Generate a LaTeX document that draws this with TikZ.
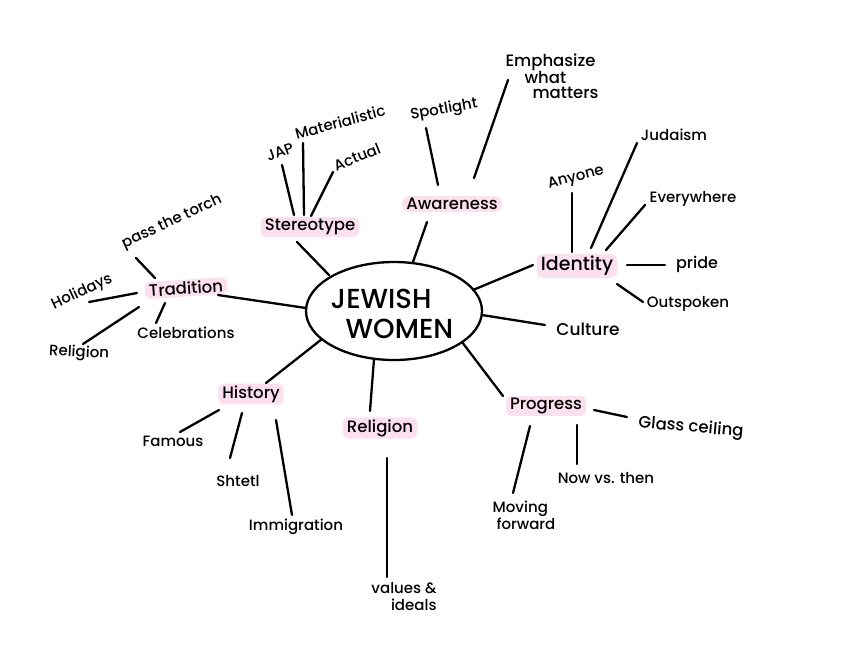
\documentclass[tikz,border=0pt]{standalone}
\usepackage{fontspec}
\setmainfont{Poppins}[UprightFont={* Medium}]
\usetikzlibrary{calc,shapes.geometric}
\definecolor{hl}{RGB}{252,224,238}
\tikzset{
  lbl/.style={font=\fontsize{15}{17}\selectfont, inner sep=1pt, text=black},
  hlbox/.style={font=\fontsize{16.5}{18}\selectfont, fill=hl, rounded corners=6pt, inner xsep=4pt, inner ysep=2pt, text=black},
  conn/.style={line width=2.3pt, line cap=round, draw=black},
}
\begin{document}
\begin{tikzpicture}[x=1pt,y=-1pt]
\useasboundingbox (0,0) rectangle (845,656);
% center
\node[ellipse, draw, line width=2.3pt, minimum width=176pt, minimum height=98pt, inner sep=0pt] (jw) at (394,311) {};
\node[font=\fontsize{27.5}{32}\selectfont, align=left, inner sep=0pt] (jwt) at (392,314) {JEWISH\\[-2pt]\hspace{15pt}WOMEN};
% tradition
\node[hlbox, rotate=4] (trad) at (186,288) {Tradition};
\node[lbl, rotate=25] (torch) at (172,222) {pass the torch};
\node[lbl, rotate=25] (holid) at (82,292) {Holidays};
\node[lbl, rotate=-3] (relL) at (79,353) {Religion};
\node[lbl] (celeb) at (186,333) {Celebrations};
% stereotype
\node[hlbox] (ster) at (310,227) {Stereotype};
\node[lbl, rotate=20] (jap) at (280,152) {JAP};
\node[lbl, rotate=15] (mat) at (340,122) {Materialistic};
\node[lbl, rotate=22] (act) at (357,157) {Actual};
% awareness
\node[hlbox] (aware) at (452,204) {Awareness};
\node[lbl, rotate=10] (spot) at (444,110) {Spotlight};
\node[lbl, align=left, font=\fontsize{16.5}{15}\selectfont] (emph) at (552,76) {Emphasize\\\hspace{19pt}what\\\hspace{27pt}matters};
% identity
\node[hlbox, font=\fontsize{19}{20}\selectfont] (ident) at (577,266) {Identity};
\node[lbl, rotate=15] (anyone) at (576,178) {Anyone};
\node[lbl] (juda) at (674,135) {Judaism};
\node[lbl] (every) at (693,199) {Everywhere};
\node[lbl, font=\fontsize{16}{17}\selectfont] (pride) at (697,264) {pride};
\node[lbl, font=\fontsize{17}{18}\selectfont] (cult) at (588,329) {Culture};
\node[lbl] (outsp) at (688,304) {Outspoken};
% progress
\node[hlbox] (prog) at (546,406) {Progress};
\node[lbl, rotate=-5, font=\fontsize{16.5}{17}\selectfont] (glass) at (691,428) {Glass ceiling};
\node[lbl] (now) at (606,478) {Now vs. then};
\node[lbl, align=left] (moving) at (524,515) {Moving\\\hspace{4pt}forward};
% religion
\node[hlbox] (relM) at (380,428) {Religion};
\node[lbl, align=right] (values) at (404,597) {values \&\\ideals};
% history
\node[hlbox] (hist) at (251,394) {History};
\node[lbl] (famous) at (173,441) {Famous};
\node[lbl] (shtetl) at (238,481) {Shtetl};
\node[lbl] (immig) at (296,527) {Immigration};
% connectors
\draw[conn] ($(jw)+(-88,-3)$) -- ($(trad)+(32,7)$);
\draw[conn] ($(trad)+(-31,-10)$) -- ($(torch)+(-36,36)$);
\draw[conn] ($(trad)+(-49,5)$) -- ($(holid)+(7,10)$);
\draw[conn] ($(trad)+(-47,19)$) -- ($(relL)+(4,-9)$);
\draw[conn] ($(trad)+(-21,15)$) -- ($(celeb)+(-30,-10)$);
\draw[conn] ($(jw)+(-65,-36)$) -- ($(ster)+(-13,15)$);
\draw[conn] ($(ster)+(-16,-12)$) -- ($(jap)+(2,13)$);
\draw[conn] ($(ster)+(-6,-12)$) -- ($(mat)+(-37,21)$);
\draw[conn] ($(ster)+(1,-11)$) -- ($(act)+(-24,15)$);
\draw[conn] ($(jw)+(19,-49)$) -- ($(aware)+(-25,18)$);
\draw[conn] ($(aware)+(-14,-19)$) -- ($(spot)+(-18,18)$);
\draw[conn] ($(aware)+(22,-26)$) -- ($(emph)+(-44,4)$);
\draw[conn] ($(jw)+(79,-21)$) -- ($(ident)+(-44,-1)$);
\draw[conn] ($(ident)+(-5,-14)$) -- ($(anyone)+(-4,15)$);
\draw[conn] ($(ident)+(14,-18)$) -- ($(juda)+(-37,8)$);
\draw[conn] ($(ident)+(29,-16)$) -- ($(every)+(-48,6)$);
\draw[conn] ($(ident)+(50,-1)$) -- ($(pride)+(-32,1)$);
\draw[conn] ($(ident)+(40,18)$) -- ($(outsp)+(-45,-2)$);
\draw[conn] ($(jw)+(88,4)$) -- ($(cult)+(-43,-4)$);
\draw[conn] ($(jw)+(68,31)$) -- ($(prog)+(-43,-10)$);
\draw[conn] ($(prog)+(48,4)$) -- ($(glass)+(-64,-11)$);
\draw[conn] ($(prog)+(31,19)$) -- ($(now)+(-29,-14)$);
\draw[conn] ($(prog)+(-16,20)$) -- ($(moving)+(-11,-22)$);
\draw[conn] ($(jw)+(-20,48)$) -- ($(relM)+(-10,-17)$);
\draw[conn] ($(relM)+(7,30)$) -- ($(values)+(-17,-20)$);
\draw[conn] ($(jw)+(-72,28)$) -- ($(hist)+(15,-11)$);
\draw[conn] ($(hist)+(-32,16)$) -- ($(famous)+(7,-9)$);
\draw[conn] ($(hist)+(-9,19)$) -- ($(shtetl)+(-8,-23)$);
\draw[conn] ($(hist)+(25,26)$) -- ($(immig)+(-4,-12)$);
\end{tikzpicture}
\end{document}
